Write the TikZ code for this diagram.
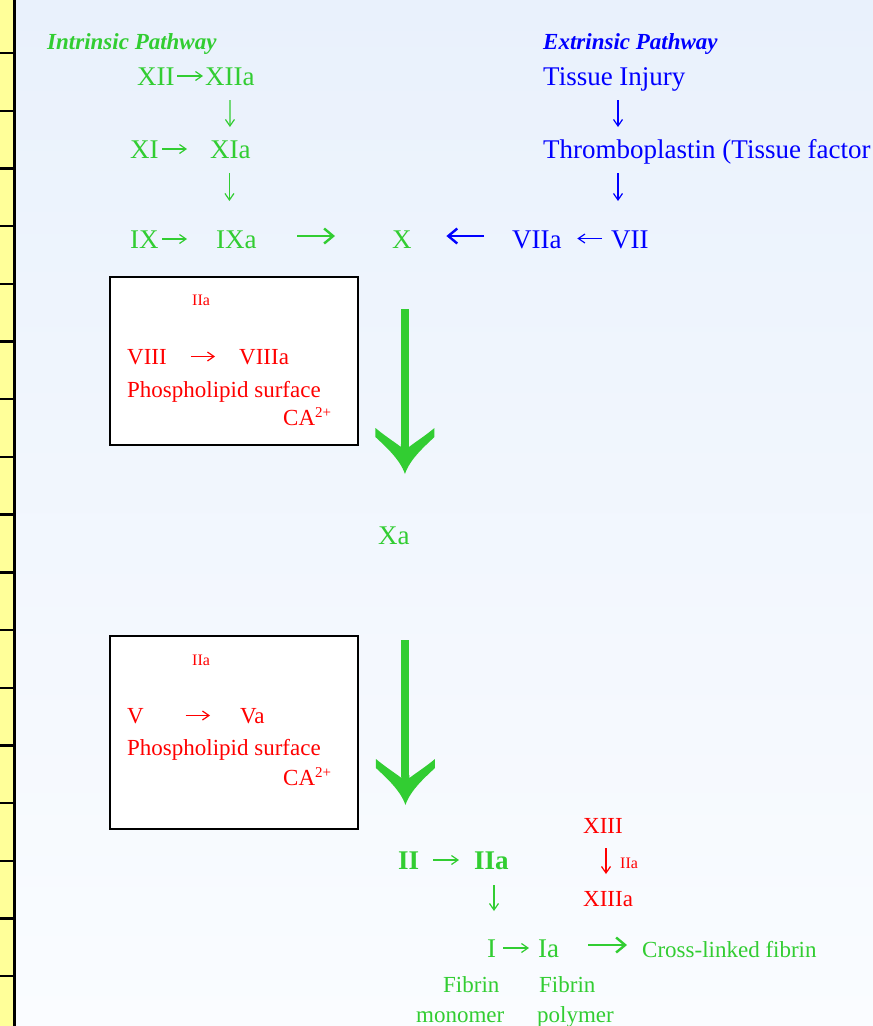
\documentclass[tikz,border=0pt]{standalone}
\usepackage{fontspec}
\setmainfont{Liberation Serif}
\usetikzlibrary{arrows.meta,calc}
\definecolor{gr}{RGB}{50,205,50}
\definecolor{bl}{RGB}{0,0,255}
\definecolor{rd}{RGB}{255,0,0}
\definecolor{strip}{RGB}{255,255,153}
\definecolor{bgtop}{RGB}{233,241,252}
\definecolor{bgbot}{RGB}{250,252,255}
\newcommand\myfs[1]{\fontsize{#1}{#1}\selectfont}
\pgfdeclarearrow{
  name = BigV,
  setup code = {
    \pgfarrowssettipend{0pt}
    \pgfarrowssetlineend{-28pt}
    \pgfarrowssetvisualbackend{-28pt}
    \pgfarrowssetbackend{-46pt}
    \pgfarrowshullpoint{0pt}{0pt}
    \pgfarrowshullpoint{-46pt}{30pt}
    \pgfarrowshullpoint{-46pt}{-30pt}
  },
  drawing code = {
    \pgfpathmoveto{\pgfqpoint{0pt}{0pt}}
    \pgfpathcurveto{\pgfqpoint{-15pt}{5pt}}{\pgfqpoint{-28pt}{20pt}}{\pgfqpoint{-37pt}{29.5pt}}
    \pgfpathlineto{\pgfqpoint{-46pt}{29.5pt}}
    \pgfpathcurveto{\pgfqpoint{-38pt}{20pt}}{\pgfqpoint{-31pt}{9pt}}{\pgfqpoint{-27pt}{4pt}}
    \pgfpathlineto{\pgfqpoint{-30pt}{4pt}}
    \pgfpathlineto{\pgfqpoint{-30pt}{-4pt}}
    \pgfpathlineto{\pgfqpoint{-27pt}{-4pt}}
    \pgfpathcurveto{\pgfqpoint{-31pt}{-9pt}}{\pgfqpoint{-38pt}{-20pt}}{\pgfqpoint{-46pt}{-29.5pt}}
    \pgfpathlineto{\pgfqpoint{-37pt}{-29.5pt}}
    \pgfpathcurveto{\pgfqpoint{-28pt}{-20pt}}{\pgfqpoint{-15pt}{-5pt}}{\pgfqpoint{0pt}{0pt}}
    \pgfpathclose
    \pgfusepathqfill
  }
}
\begin{document}
\begin{tikzpicture}[x=1pt,y=-1pt,
  t/.style={inner sep=0pt, anchor=base west, font=\myfs{27}},
  tm/.style={inner sep=0pt, anchor=base west, font=\myfs{23}},
  ts/.style={inner sep=0pt, anchor=base west, font=\myfs{16}},
  tb/.style={inner sep=0pt, anchor=base west, font=\myfs{27}\bfseries},
  ttl/.style={inner sep=0pt, anchor=base west, font=\myfs{23}\bfseries\itshape},
  thinarr/.style={line width=1.2pt, -{Straight Barb[length=6.5pt,width=9pt]}},
  longarr/.style={line width=2.4pt, -{Straight Barb[length=9pt,width=15pt]}},
  bigarr/.style={line width=8pt, -BigV, gr},
  boxst/.style={draw=black, line width=1.6pt, fill=white, anchor=north west, inner sep=0pt},
]
\useasboundingbox (0,0) rectangle (873,1026);
\fill[top color=bgtop, bottom color=bgbot] (0,0) rectangle (873,1026);
% left strip
\fill[strip] (0,0) rectangle (14.7,1026);
\draw[line width=2.7pt] (14.7,0) -- (14.7,1026);
\foreach \k in {0,...,16} \draw[line width=2.4pt] (0,{53+57.7*\k}) -- (16,{53+57.7*\k});

% titles
\node[ttl,gr] (intr) at (47,49) {Intrinsic Pathway};
\node[ttl,bl] (extr) at (543,49) {Extrinsic Pathway};

% intrinsic
\node[t,gr] (XII) at (137,85) {XII};
\node[t,gr] (XIIa) at (205,85) {XIIa};
\node[t,gr] (XI) at (130,158) {XI};
\node[t,gr] (XIa) at (210,158) {XIa};
\node[t,gr] (IX) at (130,248) {IX};
\node[t,gr] (IXa) at (216,248) {IXa};
\node[t,gr] (X) at (392,248) {X};

% extrinsic
\node[t,bl] (tissue) at (543,85) {Tissue Injury};
\node[t,bl] (thromb) at (543,158) {Thromboplastin (Tissue factor};
\node[t,bl] (VIIa) at (512,248) {VIIa};
\node[t,bl] (VII) at (611,248) {VII};

% boxes
\node[boxst, minimum width=248pt, minimum height=168pt] (box1) at (109,276) {};
\node[boxst, minimum width=248pt, minimum height=193pt] (box2) at (109,635) {};

\node[ts,rd] (b1IIa) at (192,305) {IIa};
\node[tm,rd] (VIII) at (127,364) {VIII};
\node[tm,rd] (VIIIa) at (239,364) {VIIIa};
\node[tm,rd] (ph1) at (127,397) {Phospholipid surface};
\node[tm,rd] (ca1) at (283,425) {CA\raisebox{8pt}{\myfs{15}2+}};

\node[ts,rd] (b2IIa) at (192,665) {IIa};
\node[tm,rd] (V) at (127,723) {V};
\node[tm,rd] (Va) at (240,723) {Va};
\node[tm,rd] (ph2) at (127,755) {Phospholipid surface};
\node[tm,rd] (ca2) at (283,785) {CA\raisebox{8pt}{\myfs{15}2+}};

\node[t,gr] (Xa) at (378,544) {Xa};

% bottom
\node[tb,gr] (II) at (398,869) {II};
\node[tb,gr] (IIa) at (474,869) {IIa};
\node[tm,rd] (XIII) at (583,833) {XIII};
\node[tm,rd] (XIIIa) at (583,906) {XIIIa};
\node[ts,rd] (iia3) at (620,868) {IIa};
\node[t,gr] (I) at (487,957) {I};
\node[t,gr] (Ia) at (538,957) {Ia};
\node[tm,gr] (cross) at (642,957) {Cross-linked fibrin};
\node[tm,gr] (fib1) at (443,992) {Fibrin};
\node[tm,gr] (mono) at (416,1022) {monomer};
\node[tm,gr] (fib2) at (539,992) {Fibrin};
\node[tm,gr] (poly) at (537,1022) {polymer};

% intrinsic connectors
\draw[thinarr,gr] ([xshift=2.5pt,yshift=9pt]XII.base east) -- ([xshift=-2pt,yshift=9pt]XIIa.base west);
\draw[thinarr,gr] ([yshift=-15pt]XIIa.base) -- ([xshift=-0.5pt,yshift=31pt]XIa.base);
\draw[thinarr,gr] ([xshift=3.5pt,yshift=9pt]XI.base east) -- ([xshift=-23pt,yshift=9pt]XIa.base west);
\draw[thinarr,gr] ([xshift=-1pt,yshift=-15pt]XIa.base) -- ([xshift=-7pt,yshift=47pt]IXa.base);
\draw[thinarr,gr] ([xshift=3.5pt,yshift=9pt]IX.base east) -- ([xshift=-29pt,yshift=9pt]IXa.base west);
\draw[longarr,gr] ([xshift=40.5pt,yshift=12pt]IXa.base east) -- ([xshift=-57pt,yshift=12pt]X.base west);

% extrinsic connectors
\draw[thinarr,bl] ([xshift=75pt,yshift=-15pt]tissue.base west) -- ([xshift=75pt,yshift=31pt]thromb.base west);
\draw[thinarr,bl] ([xshift=75pt,yshift=-15pt]thromb.base west) -- ([xshift=7pt,yshift=47pt]VII.base west);
\draw[thinarr,bl] ([xshift=-9pt,yshift=9.5pt]VII.base west) -- ([xshift=15.5pt,yshift=9.5pt]VIIa.base east);
\draw[longarr,bl] ([xshift=-28pt,yshift=12pt]VIIa.base west) -- ([xshift=34.5pt,yshift=12pt]X.base east);

% box connectors
\draw[thinarr,rd] ([xshift=24pt,yshift=7.5pt]VIII.base east) -- ([xshift=-24pt,yshift=7.5pt]VIIIa.base west);
\draw[thinarr,rd] ([xshift=41.5pt,yshift=7.5pt]V.base east) -- ([xshift=-30pt,yshift=7.5pt]Va.base west);

% big arrows
\coordinate (a1s) at ($(X.base)+(3,61)$);
\coordinate (a1e) at ($(Xa.base)+(0,-70)$);
\draw[bigarr] (a1s) -- (a1s |- a1e);
\coordinate (a2s) at ($(Xa.base)+(11.5,96)$);
\coordinate (a2e) at ($(II.base)+(0,-64)$);
\draw[bigarr] (a2s) -- (a2s |- a2e);

% bottom connectors
\draw[thinarr,gr] ([xshift=14pt,yshift=9pt]II.base east) -- ([xshift=-15pt,yshift=9pt]IIa.base west);
\draw[thinarr,rd] ([xshift=23pt,yshift=-15pt]XIII.base west) -- ([xshift=23pt,yshift=32pt]XIIIa.base west);
\draw[thinarr,gr] ([xshift=20pt,yshift=-16pt]IIa.base west) -- ([xshift=7pt,yshift=46pt]I.base west);
\draw[thinarr,gr] ([xshift=7pt,yshift=9pt]I.base east) -- ([xshift=-9pt,yshift=9pt]Ia.base west);
\draw[longarr,gr] ([xshift=29pt,yshift=12pt]Ia.base east) -- ([xshift=-15pt,yshift=12pt]cross.base west);
\end{tikzpicture}
\end{document}
